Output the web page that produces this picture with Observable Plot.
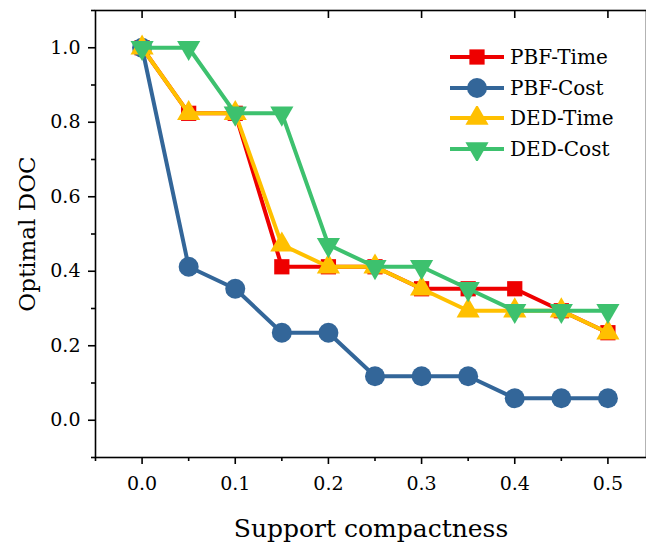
<!DOCTYPE html>
<html>
<head>
<meta charset="utf-8">
<script src="https://cdn.jsdelivr.net/npm/d3@7"></script>
<script src="https://cdn.jsdelivr.net/npm/@observablehq/plot@0.6"></script>
<style>
  html, body { margin: 0; padding: 0; background: #fff; }
  #wrap { position: relative; width: 646px; height: 546px; font-family: "DejaVu Serif", serif; }
  #legend { position: absolute; left: 449px; top: 42px; }
  .row { display: flex; align-items: center; height: 30.5px; }
  .row span { font-size: 20px; margin-left: 5px; color: #000; }
</style>
</head>
<body>
<div id="wrap"><div id="chart"></div><div id="legend"></div></div>
<script>
const xValues = [0, 0.05, 0.1, 0.15, 0.2, 0.25, 0.3, 0.35, 0.4, 0.45, 0.5];
const pbfTime = [1.0, 0.824, 0.824, 0.412, 0.412, 0.412, 0.353, 0.353, 0.353, 0.294, 0.235];
const pbfCost = [1.0, 0.412, 0.353, 0.235, 0.235, 0.118, 0.118, 0.118, 0.059, 0.059, 0.059];
const dedTime = [1.0, 0.824, 0.824, 0.471, 0.412, 0.412, 0.353, 0.294, 0.294, 0.294, 0.235];
const dedCost = [1.0, 1.0, 0.824, 0.824, 0.471, 0.412, 0.412, 0.353, 0.294, 0.294, 0.294];
const seriesNames = ["PBF-Time", "PBF-Cost", "DED-Time", "DED-Cost"];
const seriesValues = [pbfTime, pbfCost, dedTime, dedCost];
const seriesColors = ["#ee0000", "#336699", "#ffc000", "#3dc16e"];
const seriesSymbols = ["square", "circle", "triangle", "triangle"];
const seriesRotate = [0, 0, 0, 180];
const seriesR = [8.6, 10, 8.6, 8.6];
const xMajor = [0, 0.1, 0.2, 0.3, 0.4, 0.5];
const xMinor = [-0.05, 0.05, 0.15, 0.25, 0.35, 0.45, 0.55];
const yMajor = [0, 0.2, 0.4, 0.6, 0.8, 1.0];
const yMinor = [-0.1, 0.1, 0.3, 0.5, 0.7, 0.9, 1.1];
const xTitle = "Support compactness";
const yTitle = "Optimal DOC";

const series = seriesNames.map((name, i) => ({
  name, color: seriesColors[i], symbol: seriesSymbols[i], rotate: seriesRotate[i], r: seriesR[i],
  data: xValues.map((x, j) => ({x, y: seriesValues[i][j]}))
}));

const fontFamily = "DejaVu Serif";
const marks = [];
for (const s of series) {
  marks.push(Plot.line(s.data, {x: "x", y: "y", stroke: s.color, strokeWidth: 4}));
  marks.push(Plot.dot(s.data, {x: "x", y: "y", symbol: s.symbol, r: s.r, fill: s.color, stroke: "none", rotate: s.rotate}));
}

const chart = Plot.plot({
  width: 646,
  height: 546,
  marginLeft: 95,
  marginTop: 10,
  marginBottom: 89,
  marginRight: 0,
  style: {fontFamily, background: "transparent", color: "#000"},
  x: {domain: [-0.05, 0.55], range: [95, 654]},
  y: {domain: [-0.1, 1.1]},
  marks: [
    ...marks,
    Plot.frame({stroke: "#000", strokeWidth: 1.6}),
    Plot.axisX(xMajor, {anchor: "bottom", tickSize: 7, tickPadding: 12, tickFormat: d3.format(".1f"), fontSize: 19, label: null, strokeWidth: 1.6}),
    Plot.axisX(xMinor, {anchor: "bottom", tickSize: 4, tickFormat: () => "", label: null, strokeWidth: 1.6}),
    Plot.axisX(xMajor, {anchor: "top", tickSize: 7, dy: 7, tickFormat: () => "", label: null, strokeWidth: 1.6}),
    Plot.axisY(yMajor, {anchor: "left", tickSize: 7, tickPadding: 8, tickFormat: d3.format(".1f"), fontSize: 19, label: null, strokeWidth: 1.6}),
    Plot.axisY(yMinor, {anchor: "left", tickSize: 4, tickFormat: () => "", label: null, strokeWidth: 1.6}),
    Plot.text([xTitle], {frameAnchor: "bottom", lineAnchor: "middle", textAnchor: "middle", dy: 71, fontSize: 25, fill: "#000"}),
    Plot.text([yTitle], {frameAnchor: "left", lineAnchor: "middle", textAnchor: "middle", dx: -68, rotate: -90, fontSize: 23, fill: "#000"})
  ]
});
document.getElementById("chart").appendChild(chart);

const legend = document.getElementById("legend");
for (const s of series) {
  const row = document.createElement("div");
  row.className = "row";
  const svg = d3.create("svg").attr("width", 56).attr("height", 24);
  svg.append("line").attr("x1", 1).attr("x2", 55).attr("y1", 12).attr("y2", 12)
    .attr("stroke", s.color).attr("stroke-width", 4);
  const symType = {square: d3.symbolSquare, circle: d3.symbolCircle, triangle: d3.symbolTriangle}[s.symbol];
  svg.append("path").attr("d", d3.symbol(symType, Math.PI * s.r * s.r)())
    .attr("transform", `translate(28,12) rotate(${s.rotate})`).attr("fill", s.color);
  row.appendChild(svg.node());
  const span = document.createElement("span");
  span.textContent = s.name;
  row.appendChild(span);
  legend.appendChild(row);
}
</script>
</body>
</html>
